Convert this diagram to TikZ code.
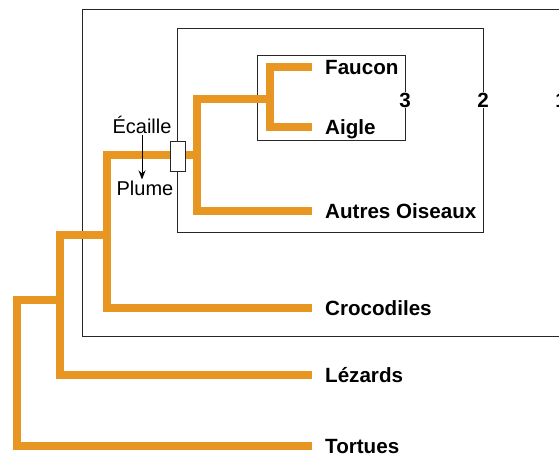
\documentclass[tikz,border=0pt]{standalone}
\usepackage{fontspec}
\setmainfont{Liberation Sans}
\usetikzlibrary{arrows.meta}
\definecolor{branchorange}{RGB}{232,150,34}
\tikzset{
  branch/.style = {draw = branchorange, line width = 7.5pt, line join = miter},
  groupbox/.style = {draw = black!85, line width = 0.9pt},
  taxon/.style = {anchor = west, inner xsep = 13pt, inner ysep = 0pt, text height = 15pt, text depth = 0pt, font = \fontsize{20.6}{24}\selectfont\bfseries},
  rank/.style = {fill = white, inner sep = 1pt, font = \fontsize{20.6}{24}\selectfont\bfseries},
  trait/.style = {font = \fontsize{20}{24}\selectfont, inner sep = 1pt}
}
\begin{document}
\begin{tikzpicture}[x = 1pt, y = -1pt]
        \clip (0, 0) rectangle (559, 459);
        % groups
        \draw[groupbox] (82, 9) rectangle (561, 336);
        \draw[groupbox] (177, 28) rectangle (483, 232);
        \draw[groupbox] (257, 55) rectangle (405, 140);
        \node[rank] (r1) at (561, 100) {1};
        \node[rank] (r2) at (483, 100) {2};
        \node[rank] (r3) at (405, 100) {3};
        % taxa
        \foreach \name/\txt/\y in {faucon/Faucon/67, aigle/Aigle/127, autres/Autres Oiseaux/211, crocodiles/Crocodiles/308, lezards/Lézards/375, tortues/Tortues/446}{
            \node[taxon] (\name) at (312, \y) {\txt};
        }
        \coordinate (n1) at (17, 300);
        \coordinate (n2) at (60, 300);
        \coordinate (n3) at (107, 235);
        \coordinate (n4) at (197, 155);
        \coordinate (n5) at (270, 99);
        \draw[branch] (tortues.west) -| (n1) -- (n2) |- (lezards.west);
        \draw[branch] (n2) |- (n3) |- (crocodiles.west);
        \draw[branch] (n3) |- (n4) |- (autres.west);
        \draw[branch] (n4) |- (n5) |- (faucon.west);
        \draw[branch] (n5) |- (aigle.west);
        % character change
        \node[draw = black!85, fill = white, line width = 0.9pt, minimum width = 15pt, minimum height = 30pt, inner sep = 0pt] (marker) at (178, 156) {};
        \node[trait] (ecaille) at (142, 125) {Écaille};
        \node[trait] (plume) at (145, 188) {Plume};
        \draw[-{Stealth[length = 9pt, width = 7pt]}, line width = 0.9pt] (ecaille.south) -- (ecaille.south |- plume.north);
    \end{tikzpicture}
\end{document}
